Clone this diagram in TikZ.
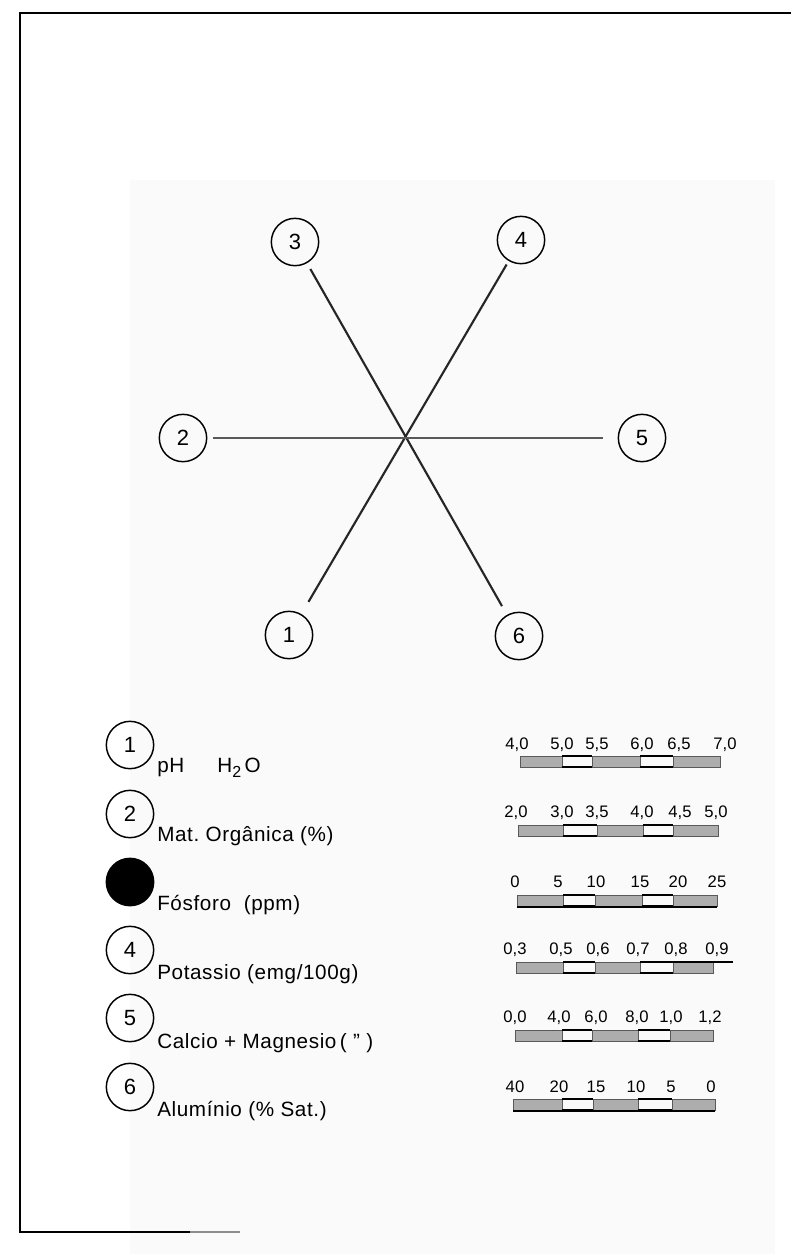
\documentclass[tikz,border=0pt]{standalone}
\usepackage{fontspec}
\setmainfont{Liberation Sans}
\newcommand\scalebar[7]{%
  \fill[black!32] (#2,#1) rectangle (#3,#1+11);
  \fill[black!32] (#4,#1) rectangle (#5,#1+11);
  \fill[black!32] (#6,#1) rectangle (#7,#1+11);
  \draw[gseg] (#2,#1) rectangle (#3,#1+11);
  \draw[gseg] (#4,#1) rectangle (#5,#1+11);
  \draw[gseg] (#6,#1) rectangle (#7,#1+11);
  \draw[wline] (#3,#1) -- (#4,#1) (#3,#1+11) -- (#4,#1+11);
  \draw[wline] (#5,#1) -- (#6,#1) (#5,#1+11) -- (#6,#1+11);
}
\begin{document}
\begin{tikzpicture}[x=0.75pt,y=-0.75pt,
  num/.style={circle, draw, line width=1.1pt, minimum size=35.5pt, inner sep=0pt,
    font=\fontsize{16.5}{16.5}\selectfont},
  spoke/.style={line width=1.6pt, draw=black!85},
  lab/.style={anchor=west, inner sep=0pt,
    font=\fontsize{15.5}{16}\selectfont\addfontfeature{LetterSpace=3}},
  tk/.style={inner sep=0pt, font=\fontsize{12.5}{12.5}\selectfont},
  gseg/.style={draw=black!65, line width=0.6pt},
  wline/.style={draw=black, line width=0.8pt},
  frame/.style={line width=1.5pt}]
\path[use as bounding box, fill=white] (0,0) rectangle (791,1254);
\fill[black!2] (130,180) rectangle (775,1254);
\draw[frame] (791,13) -- (20,13) -- (20,1232) -- (190,1232);
\draw[line width=1.2pt, black!45] (190,1232) -- (240,1232);

% star
\node[num] (s3) at (295,242) {3};
\node[num] (s4) at (521,240) {4};
\node[num] (s2) at (183,438) {2};
\node[num] (s5) at (642,438) {5};
\node[num] (s1) at (289,635) {1};
\node[num] (s6) at (519,636) {6};
\draw[spoke, shorten <=5pt, shorten >=7.5pt] (s3) -- (s6);
\draw[spoke, shorten <=3pt, shorten >=10.5pt] (s4) -- (s1);
\draw[spoke, draw=black!65, line width=1.8pt, shorten <=4.5pt, shorten >=11pt] (s2) -- (s5);

% legend
\node[num] (l1) at (130,745) {1};
\node[num] (l2) at (130,814) {2};
\node[num, fill=black] (l3) at (130,882) {};
\node[num] (l4) at (130,950) {4};
\node[num] (l5) at (130,1018) {5};
\node[num] (l6) at (130,1087) {6};
\node[lab] (t1) at (157,768) {pH\hspace{1.6em}H\raisebox{-0.5ex}{\fontsize{12}{12}\selectfont 2}\,O};
\node[lab] (t2) at (157,836) {Mat.\ Orgânica (\%)};
\node[lab] (t3) at (157,905) {Fósforo\ \ (ppm)};
\node[lab] (t4) at (157,974) {Potassio (emg/100g)};
\node[lab] (t5) at (157,1043) {Calcio + Magnesio\,( '' )};
\node[lab] (t6) at (157,1111) {Alumínio (\% Sat.)};

% scales
\foreach \x/\t [count=\i] in {517/{4,0},562/{5,0},597/{5,5},642/{6,0},679/{6,5},725/{7,0}}
  \node[tk] (a\i) at (\x,745) {\t};
\scalebar{756}{520}{562}{592}{640}{673}{720}

\foreach \x/\t [count=\i] in {516/{2,0},562/{3,0},597/{3,5},642/{4,0},680/{4,5},716/{5,0}}
  \node[tk] (b\i) at (\x,813) {\t};
\scalebar{825}{518}{563}{597}{643}{673}{718}

\foreach \x/\t [count=\i] in {515/0,558/5,596/10,640/15,678/20,717/25}
  \node[tk] (c\i) at (\x,882) {\t};
\scalebar{895}{517}{563}{595}{642}{673}{717}
\draw[line width=1.4pt] (517,907) -- (717,907);

\foreach \x/\t [count=\i] in {515/{0,3},561/{0,5},598/{0,6},638/{0,7},676/{0,8},717/{0,9}}
  \node[tk] (d\i) at (\x,950) {\t};
\scalebar{962}{516}{563}{595}{640}{673}{713}
\draw[line width=1.3pt] (667,962) -- (733,962);

\foreach \x/\t [count=\i] in {515/{0,0},559/{4,0},596/{6,0},637/{8,0},671/{1,0},710/{1,2}}
  \node[tk] (e\i) at (\x,1018) {\t};
\scalebar{1030}{515}{562}{592}{638}{670}{713}

\foreach \x/\t [count=\i] in {515/40,559/20,596/15,636/10,671/5,711/0}
  \node[tk] (f\i) at (\x,1087) {\t};
\scalebar{1099}{513}{562}{593}{638}{672}{715}
\draw[line width=1.4pt] (513,1111) -- (715,1111);
\end{tikzpicture}
\end{document}
